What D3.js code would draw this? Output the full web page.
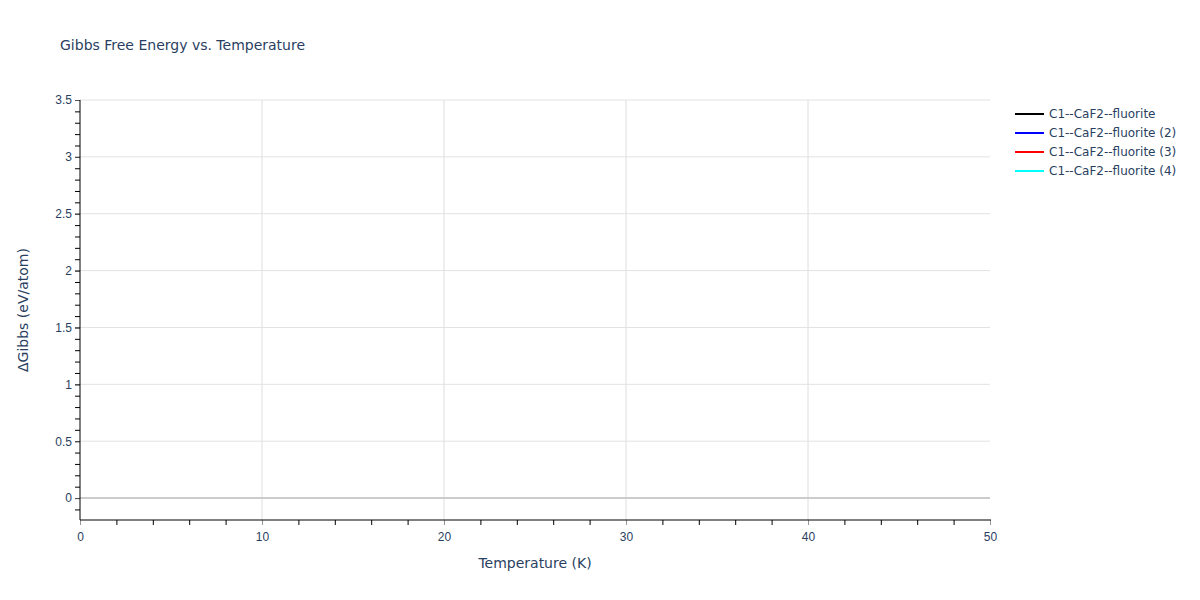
<!DOCTYPE html>
<html><head><meta charset="utf-8">
<script src="https://cdn.jsdelivr.net/npm/d3@7"></script>
<style>body{margin:0;background:#fff}svg{font-family:"DejaVu Sans",verdana,arial,sans-serif}</style>
</head><body>
<svg id="c" width="1200" height="600"></svg>
<script>
const seriesNames = ["C1--CaF2--fluorite","C1--CaF2--fluorite (2)","C1--CaF2--fluorite (3)","C1--CaF2--fluorite (4)"];
const seriesColors = ["#000000","#0000ff","#ff0000","#00ffff"];
// No visible data in the reference plot area
const seriesTemps = [[],[],[],[]];
const seriesGibbs = [[],[],[],[]];
const xTicks = [0,10,20,30,40,50];
const yTicks = [0,0.5,1,1.5,2,2.5,3,3.5];
const xDomain = [0,50];
const yDomain = [-0.193,3.5];

const svg = d3.select("#c");
const L=80,R=990,T=100,B=520;
const x = d3.scaleLinear().domain(xDomain).range([L,R]);
const y = d3.scaleLinear().domain(yDomain).range([B,T]);
const txt="#2a3f5f";

// gridlines
svg.append("g").selectAll("line").data(xTicks.filter(d=>d>0&&d<50)).join("line")
  .attr("x1",d=>x(d)).attr("x2",d=>x(d)).attr("y1",T).attr("y2",B)
  .attr("stroke","#dedede").attr("stroke-width",1);
svg.append("g").selectAll("line").data(yTicks.filter(d=>d!==0)).join("line")
  .attr("x1",L).attr("x2",R).attr("y1",d=>y(d)).attr("y2",d=>y(d))
  .attr("stroke","#e2e2e2").attr("stroke-width",1);
svg.append("line").attr("x1",L).attr("x2",R).attr("y1",y(0)).attr("y2",y(0))
  .attr("stroke","#cccccc").attr("stroke-width",2);

// data lines
const line = d3.line().x(d=>x(d[0])).y(d=>y(d[1]));
seriesNames.forEach((n,i)=>{
  const pts = seriesTemps[i].map((t,j)=>[t,seriesGibbs[i][j]]);
  svg.append("path").datum(pts).attr("d",line).attr("fill","none")
    .attr("stroke",seriesColors[i]).attr("stroke-width",2);
});

// x axis
const gx = svg.append("g").attr("transform",`translate(0,${B})`);
gx.call(d3.axisBottom(x).tickValues(d3.range(0,51,2)).tickSize(5).tickFormat(""))
  .call(g=>g.select(".domain").remove())
  .call(g=>g.selectAll("line").attr("stroke","#000"));
gx.append("g").call(d3.axisBottom(x).tickValues(xTicks).tickSize(5).tickFormat(d3.format("d")))
  .call(g=>g.select(".domain").remove())
  .call(g=>g.selectAll("line").attr("stroke","#999"))
  .call(g=>g.selectAll("text").attr("fill",txt).attr("font-size",12).attr("dy","1.1em"));
svg.append("line").attr("x1",L).attr("x2",R+1).attr("y1",B).attr("y2",B).attr("stroke","#000");

// y axis
const gy = svg.append("g").attr("transform",`translate(${L},0)`);
gy.call(d3.axisLeft(y).tickValues(d3.range(-1,36).map(d=>d/10).filter(d=>d>=yDomain[0])).tickSize(5).tickFormat(""))
  .call(g=>g.select(".domain").remove())
  .call(g=>g.selectAll("line").attr("stroke","#000"));
gy.append("g").call(d3.axisLeft(y).tickValues(yTicks).tickSize(5).tickFormat(d=>String(d)))
  .call(g=>g.select(".domain").remove())
  .call(g=>g.selectAll("line").attr("stroke","#555"))
  .call(g=>g.selectAll("text").attr("fill",txt).attr("font-size",12).attr("x",-8));
svg.append("line").attr("x1",L).attr("x2",L).attr("y1",T).attr("y2",B).attr("stroke","#000");

// titles
svg.append("text").attr("x",60).attr("y",50).attr("fill",txt).attr("font-size",14)
  .text("Gibbs Free Energy vs. Temperature");
svg.append("text").attr("x",(L+R)/2).attr("y",568).attr("text-anchor","middle")
  .attr("fill",txt).attr("font-size",14).text("Temperature (K)");
svg.append("text").attr("transform","translate(28,310) rotate(-90)").attr("text-anchor","middle")
  .attr("fill",txt).attr("font-size",14).text("ΔGibbs (eV/atom)");

// legend
const lg = svg.append("g");
seriesNames.forEach((n,i)=>{
  const yy = 114 + i*19;
  lg.append("line").attr("x1",1015).attr("x2",1044).attr("y1",yy).attr("y2",yy)
    .attr("stroke",seriesColors[i]).attr("stroke-width",2);
  lg.append("text").attr("x",1049).attr("y",yy+4).attr("fill",txt).attr("font-size",12).text(n);
});
</script>
</body></html>
